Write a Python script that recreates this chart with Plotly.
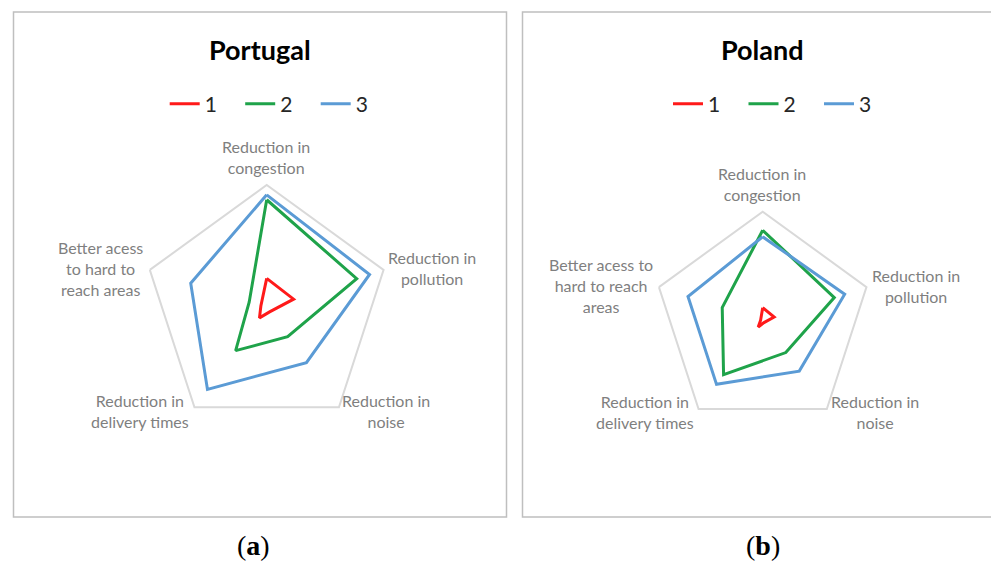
import plotly.graph_objects as go

# The page body adds an 8px margin, so the figure is drawn 8px in and 8px down.
OFF = 8
W, H = 999 - OFF, 563 - OFF

categories = ["Reduction in congestion", "Reduction in pollution", "Reduction in noise",
              "Reduction in delivery times", "Better acess to hard to reach areas"]
series_names = ["1", "2", "3"]

portugal_1 = [24, 23, 4, 10, 5]
portugal_2 = [88, 77, 29, 43, 15]
portugal_3 = [92, 88, 55, 82, 65]

poland_1 = [12, 11, 2, 7, 2]
poland_2 = [83, 69, 36, 61, 39]
poland_3 = [77, 79, 57, 72, 72]

colors = ["#ff1a1a", "#1fa34a", "#5b9bd5"]


def px(x):
    return (x - OFF) / W


def py(y):
    return 1 - (y - OFF) / H


fig = go.Figure()

panels = [
    ("polar", "legend", [portugal_1, portugal_2, portugal_3]),
    ("polar2", "legend2", [poland_1, poland_2, poland_3]),
]
for subplot, legend, data in panels:
    for name, vals, col in zip(series_names, data, colors):
        fig.add_trace(go.Scatterpolar(
            r=vals + vals[:1], theta=categories + categories[:1], mode="lines",
            name=name, line=dict(color=col, width=3), subplot=subplot, legend=legend,
            hoverinfo="skip"))

polar_common = dict(
    bgcolor="white",
    gridshape="linear",
    radialaxis=dict(visible=False, range=[0, 100], showgrid=False),
    angularaxis=dict(direction="clockwise", rotation=90, showgrid=False,
                     showticklabels=False, ticks="", showline=True,
                     linecolor="#d9d9d9", linewidth=2),
)

legend_common = dict(orientation="h", yanchor="middle", xanchor="left",
                     entrywidth=30.5, entrywidthmode="pixels",
                     font=dict(size=21, color="#262626"),
                     bgcolor="rgba(0,0,0,0)", itemclick=False, itemdoubleclick=False)

# Portugal: center (266.7, 307.9), R 122.9 ; Poland: center (762.7, 320.8), R 109.1
fig.update_layout(
    width=W, height=H,
    margin=dict(l=0, r=0, t=0, b=0),
    paper_bgcolor="white",
    plot_bgcolor="white",
    font=dict(family="Lato, 'Open Sans', sans-serif"),
    polar=dict(domain=dict(x=[px(143.8), px(389.6)], y=[py(430.8), py(185.0)]), **polar_common),
    polar2=dict(domain=dict(x=[px(653.6), px(871.8)], y=[py(429.9), py(211.7)]), **polar_common),
    legend=dict(x=px(164.7), y=py(104), **legend_common),
    legend2=dict(x=px(668), y=py(104), **legend_common),
)

# panel frames
fig.add_shape(type="rect", xref="paper", yref="paper", x0=px(13.5), x1=px(506.5),
              y0=py(517), y1=py(12), line=dict(color="#bfbfbf", width=1.5), layer="below")
fig.add_shape(type="rect", xref="paper", yref="paper", x0=px(522.5), x1=px(1004),
              y0=py(517), y1=py(12), line=dict(color="#bfbfbf", width=1.5), layer="below")

# titles
for txt, x in [("Portugal", 260), ("Poland", 762)]:
    fig.add_annotation(text=f"<b>{txt}</b>", x=px(x), y=py(49), xref="paper", yref="paper",
                       showarrow=False, xanchor="center", yanchor="middle",
                       font=dict(size=27, color="black", family="Lato, sans-serif"))

# category labels
label_text_pt = ["Reduction in<br>congestion", "Reduction in<br>pollution", "Reduction in<br>noise",
                 "Reduction in<br>delivery times", "Better acess<br>to hard to<br>reach areas"]
label_text_pl = ["Reduction in<br>congestion", "Reduction in<br>pollution", "Reduction in<br>noise",
                 "Reduction in<br>delivery times", "Better acess to<br>hard to reach<br>areas"]
label_pos_pt = [(266, 157), (431.7, 268), (386, 410.7), (140, 410.7), (100.7, 268)]
label_pos_pl = [(762.3, 184), (915.7, 285.5), (875, 412.4), (645, 412.4), (601, 285.3)]
for texts, poss in [(label_text_pt, label_pos_pt), (label_text_pl, label_pos_pl)]:
    for t, (x, y) in zip(texts, poss):
        fig.add_annotation(text=t, x=px(x), y=py(y), xref="paper", yref="paper",
                           showarrow=False, xanchor="center", yanchor="middle",
                           font=dict(size=16, color="#7f7f7f", family="Lato, sans-serif"))

# sub-figure labels
for txt, x in [("(<b>a</b>)", 253), ("(<b>b</b>)", 763)]:
    fig.add_annotation(text=txt, x=px(x), y=py(545), xref="paper", yref="paper",
                       showarrow=False, xanchor="center", yanchor="middle",
                       font=dict(size=28, color="black", family="Liberation Serif, serif"))

fig.write_html("out.html")
